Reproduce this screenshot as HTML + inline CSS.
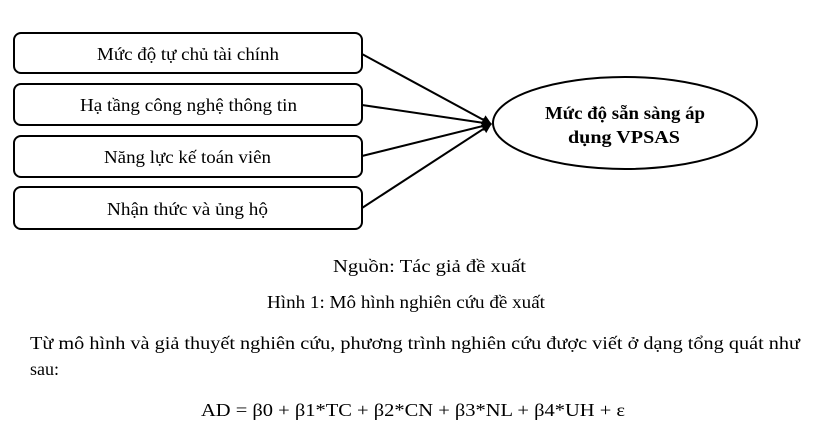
<!DOCTYPE html>
<html><head><meta charset="utf-8"><style>
html,body{margin:0;padding:0;background:#fff;width:824px;height:440px;overflow:hidden}
svg{display:block}
text{font-family:"Liberation Serif",serif;fill:#000}
</style></head><body>
<svg width="824" height="440" viewBox="0 0 824 440" xmlns="http://www.w3.org/2000/svg">
<defs><marker id="a" markerWidth="10" markerHeight="10" refX="9" refY="5" orient="auto" markerUnits="userSpaceOnUse"><path d="M0,0 L10,5 L0,10 z" fill="#000"/></marker></defs>
<g fill="none" stroke="#000" stroke-width="2">
<rect x="14" y="33" width="348" height="40" rx="7"/>
<rect x="14" y="84" width="348" height="41" rx="7"/>
<rect x="14" y="136" width="348" height="41" rx="7"/>
<rect x="14" y="187" width="348" height="42" rx="7"/>
<ellipse cx="625" cy="123" rx="132" ry="46"/>
<line x1="362" y1="54" x2="491" y2="124" marker-end="url(#a)"/>
<line x1="362" y1="105" x2="491" y2="124" marker-end="url(#a)"/>
<line x1="362" y1="156" x2="491" y2="124" marker-end="url(#a)"/>
<line x1="362" y1="208" x2="491" y2="124" marker-end="url(#a)"/>
</g>
<g font-size="18" lengthAdjust="spacingAndGlyphs">
<text x="97" y="60" textLength="182" lengthAdjust="spacingAndGlyphs">Mức độ tự chủ tài chính</text>
<text x="80" y="111" textLength="217" lengthAdjust="spacingAndGlyphs">Hạ tầng công nghệ thông tin</text>
<text x="104" y="163" textLength="167" lengthAdjust="spacingAndGlyphs">Năng lực kế toán viên</text>
<text x="107" y="215" textLength="161" lengthAdjust="spacingAndGlyphs">Nhận thức và ủng hộ</text>
<text x="545" y="119" font-weight="bold" textLength="160" lengthAdjust="spacingAndGlyphs">Mức độ sẵn sàng áp</text>
<text x="568" y="143" font-weight="bold" textLength="112" lengthAdjust="spacingAndGlyphs">dụng VPSAS</text>
</g>
<g font-size="18">
<text x="333" y="272" textLength="193" lengthAdjust="spacingAndGlyphs">Nguồn: Tác giả đề xuất</text>
<text x="267" y="308" textLength="278" lengthAdjust="spacingAndGlyphs">Hình 1: Mô hình nghiên cứu đề xuất</text>
<text x="30" y="349" textLength="770" lengthAdjust="spacingAndGlyphs">Từ mô hình và giả thuyết nghiên cứu, phương trình nghiên cứu được viết ở dạng tổng quát như</text>
<text x="30" y="375">sau:</text>
<text x="201" y="416" textLength="424" lengthAdjust="spacingAndGlyphs">AD = β0 + β1*TC + β2*CN + β3*NL + β4*UH + ε</text>
</g>
</svg>
</body></html>
